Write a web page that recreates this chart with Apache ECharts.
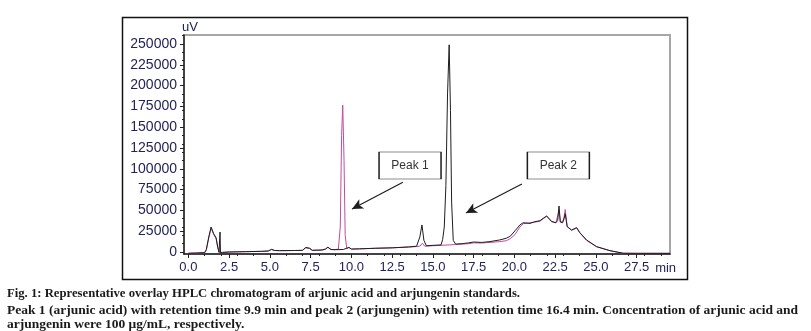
<!DOCTYPE html>
<html>
<head>
<meta charset="utf-8">
<script src="https://cdn.jsdelivr.net/npm/echarts@6/dist/echarts.min.js"></script>
<style>
html,body{margin:0;padding:0;background:#fff;}
#chart{width:811px;height:331px;}
</style>
</head>
<body>
<div id="chart"></div>
<script>
// Peak 2 trace (arjungenin, black)
var blackTime = [0,0.5,1.0,1.1,1.25,1.39,1.55,1.7,1.8,1.88,1.92,1.94,1.97,2.1,2.5,3.5,4.5,4.9,5.1,5.3,5.6,6.5,7.0,7.2,7.3,7.45,7.6,8.2,8.4,8.56,8.75,9.0,9.5,9.85,10.0,10.5,11.5,12.5,13.5,14.0,14.2,14.33,14.45,14.6,15.0,15.5,15.6,15.7,15.8,15.9,16.0,16.08,16.15,16.25,16.4,16.8,17.2,17.5,18.0,18.5,19.1,19.5,19.75,20.04,20.34,20.54,20.96,21.26,21.57,21.77,21.98,22.08,22.29,22.55,22.66,22.74,22.82,22.96,23.05,23.12,23.24,23.51,23.82,24.02,24.43,25.05,25.87,26.68,27.5,28.5,29.55];
var blackValue = [-1500,-1200,-800,3000,18000,30000,22000,17000,6000,-500,-500,24000,-800,-500,0,400,800,1200,3200,1800,1600,1800,2000,5500,7000,4500,2000,2400,3500,5800,3000,2800,3000,5500,3500,3800,4500,5000,6000,7000,18000,32500,14000,7500,8000,8500,15000,30000,80000,190000,249000,170000,60000,14000,9500,10000,11000,12000,11500,12500,14500,16500,19000,25500,32500,35200,34400,36400,37600,40500,43300,41700,36400,35200,38000,55300,36000,35200,40000,46000,30400,26400,29200,23200,14400,6400,1600,-1500,-1600,-1600,-1600];
// Peak 1 trace (arjunic acid, magenta)
var pinkTime = [0,0.5,1.0,1.1,1.25,1.4,1.55,1.7,1.8,1.9,2.1,2.5,3.5,4.5,4.9,5.1,5.3,5.6,6.5,7.0,7.2,7.3,7.45,7.6,8.2,8.4,8.56,8.75,9.0,9.2,9.32,9.4,9.47,9.55,9.62,9.72,9.85,10.0,10.5,11.5,12.5,13.5,14.0,14.2,14.36,14.5,15.0,15.5,16.0,16.4,16.8,17.2,17.5,18.0,18.5,19.1,19.5,19.75,20.04,20.34,20.54,20.96,21.26,21.57,21.77,21.98,22.08,22.29,22.55,22.66,22.74,22.82,22.96,23.05,23.12,23.24,23.51,23.82,24.02,24.43,25.05,25.87,26.68,27.5,28.5,29.55];
var pinkValue = [-1500,-1200,-800,2500,17000,29000,21000,16000,5000,-500,-500,0,400,800,1200,3000,1800,1600,1800,2000,5000,6500,4000,2000,2400,3300,5500,3000,2800,3500,30000,140000,176500,110000,20000,4000,5500,3500,3800,4500,5000,6000,6500,7000,10500,7000,7500,8000,8500,9000,9500,10000,11000,10800,11500,12500,13500,16000,21000,30000,34000,35000,36000,37000,40000,43000,42000,37000,35000,37000,50000,36500,36000,42000,51000,31000,26000,29000,23000,14000,6300,1500,-1500,-1600,-1600,-1600];
var xTicks = [0,2.5,5,7.5,10,12.5,15,17.5,20,22.5,25,27.5];
var yTicks = [0,25000,50000,75000,100000,125000,150000,175000,200000,225000,250000];
var annotations = [
  {name:'Peak 1', box:[13.6,104000], from:[13.16,83900], to:[10.04,51700]},
  {name:'Peak 2', box:[22.7,104000], from:[20.46,81700], to:[17.03,46900]}
];
var captionLines = [
  'Fig. 1: Representative overlay HPLC chromatogram of arjunic acid and arjungenin standards.',
  'Peak 1 (arjunic acid) with retention time 9.9 min and peak 2 (arjungenin) with retention time 16.4 min. Concentration of arjunic acid and',
  'arjungenin were 100 \u03bcg/mL, respectively.'
];

function pairs(t, v){ return t.map(function(x,i){ return [x, v[i]]; }); }

var chart = echarts.init(document.getElementById('chart'), null, {renderer:'canvas'});
var labelFont = {color:'#23235a', fontFamily:'Liberation Sans, Arial, sans-serif', fontSize:13};

var option = {
  animation:false,
  grid:{left:184, right:141, top:35, bottom:77, show:true, borderColor:'#a6a6a6', borderWidth:2, backgroundColor:'transparent'},
  xAxis:{
    type:'value', min:-0.27, max:29.55,
    name:'min', nameLocation:'end', nameGap:-11,
    nameTextStyle:Object.assign({}, labelFont, {align:'center', verticalAlign:'top', padding:[8,0,0,0]}),
    axisLine:{show:true, onZero:false, lineStyle:{color:'#222', width:1.5}},
    axisTick:{show:true, length:4, customValues:xTicks, lineStyle:{color:'#222'}},
    minorTick:{show:true, splitNumber:5, length:2, lineStyle:{color:'#222'}},
    axisLabel:Object.assign({}, labelFont, {margin:7, customValues:xTicks, formatter:function(v){return v.toFixed(1);}}),
    splitLine:{show:false}
  },
  yAxis:{
    type:'value', min:-2400, max:260800,
    name:'uV', nameLocation:'end', nameGap:1,
    nameTextStyle:Object.assign({}, labelFont, {align:'left', padding:[0,0,0,-2]}),
    axisLine:{show:true, onZero:false, lineStyle:{color:'#222', width:1.5}},
    axisTick:{show:true, length:4, customValues:yTicks, lineStyle:{color:'#222'}},
    minorTick:{show:true, splitNumber:5, length:2, lineStyle:{color:'#222'}},
    axisLabel:Object.assign({}, labelFont, {fontSize:14, margin:7, customValues:yTicks, formatter:function(v){return String(v);}}),
    splitLine:{show:false}
  },
  series:[
    {type:'line', name:'arjunic acid', data:pairs(pinkTime,pinkValue), showSymbol:false, symbol:'none',
     lineStyle:{color:'#c04ca0', width:1}, z:2},
    {type:'line', name:'arjungenin', data:pairs(blackTime,blackValue), showSymbol:false, symbol:'none',
     lineStyle:{color:'#1e1e1e', width:1}, z:3,
     markLine:{silent:true, symbol:['none','arrow'], symbolSize:[8,11], animation:false,
       lineStyle:{color:'#1e1e1e', width:1.2, type:'solid'}, label:{show:false},
       data:annotations.map(function(a){ return [{coord:a.from},{coord:a.to}]; })},
     markPoint:{silent:true, symbol:'rect', symbolSize:[62,27], animation:false,
       itemStyle:{color:'#fff', borderColor:'#1e1e1e', borderWidth:1},
       label:{show:true, position:'inside', color:'#333', fontFamily:'Liberation Sans, Arial, sans-serif', fontSize:12, formatter:'{b}'},
       data:annotations.map(function(a){ return {name:a.name, coord:a.box}; })}
    }
  ],
  graphic:[
    {type:'rect', shape:{x:122.5, y:17.5, width:565, height:262}, style:{fill:'none', stroke:'#111', lineWidth:1.5}, silent:true, z:-1}
  ].concat(captionLines.map(function(s,i){
    return {type:'text', left:7, top:[287,304,318][i], silent:true,
      style:{text:s, fill:'#1a1a1a', font:'bold ' + [12.7,13.5,13.5][i] + 'px "Liberation Serif", "Times New Roman", serif'}};
  }))
};
chart.setOption(option);
</script>
</body>
</html>
